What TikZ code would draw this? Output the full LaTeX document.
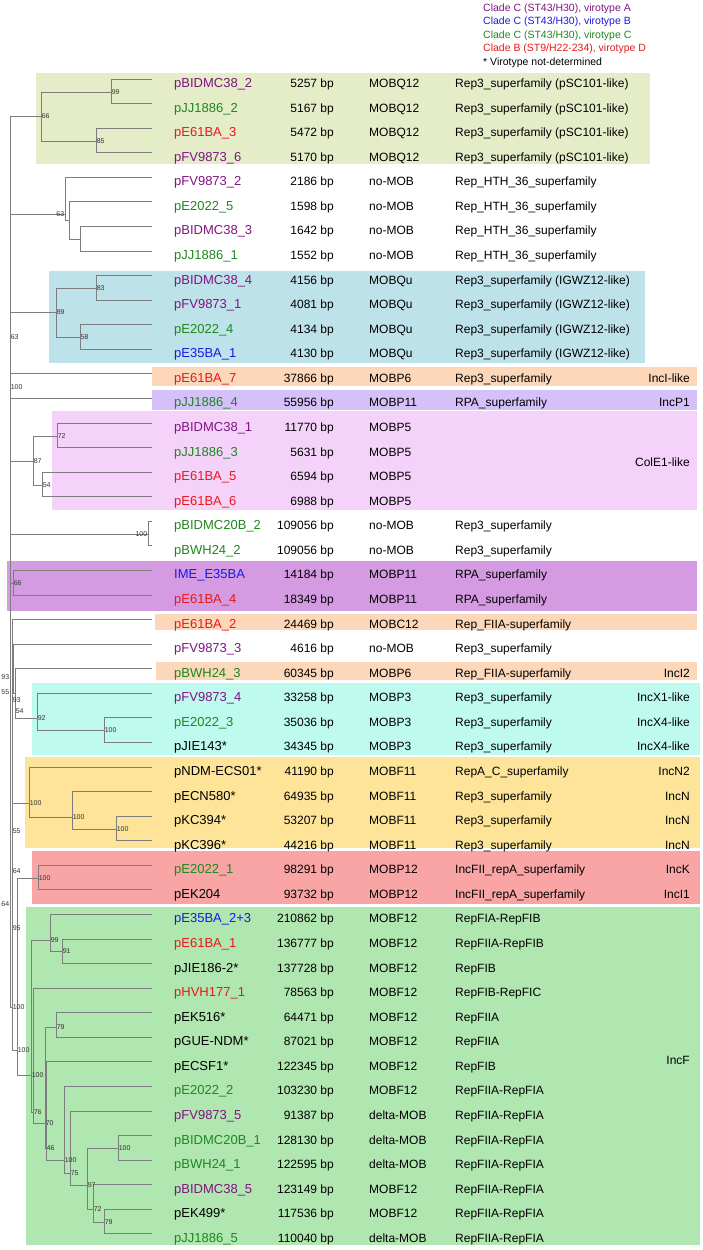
\documentclass[tikz,border=0pt]{standalone}
\usepackage{fontspec}
\setmainfont{Liberation Sans}

\definecolor{vA}{RGB}{128,20,130}
\definecolor{vB}{RGB}{25,25,225}
\definecolor{vC}{RGB}{30,135,30}
\definecolor{vD}{RGB}{232,25,25}
\definecolor{treegray}{RGB}{125,125,125}
\definecolor{boxA}{RGB}{228,237,200}
\definecolor{boxC}{RGB}{190,226,234}
\definecolor{boxPeach}{RGB}{252,215,185}
\definecolor{boxLav}{RGB}{213,192,250}
\definecolor{boxPink}{RGB}{245,210,250}
\definecolor{boxPurp}{RGB}{212,155,226}
\definecolor{boxCyan}{RGB}{190,250,238}
\definecolor{boxYel}{RGB}{253,228,152}
\definecolor{boxRed}{RGB}{250,165,165}
\definecolor{boxGrn}{RGB}{176,230,176}

\begin{document}
\begin{tikzpicture}[
    x=1pt, y=-1pt,
    branch/.style={draw=treegray, line width=0.75pt},
    tipname/.style={anchor=base west, inner sep=0pt, font=\fontsize{13}{13}\selectfont},
    cell/.style={anchor=base west, inner sep=0pt, font=\fontsize{12}{12}\selectfont},
    bplen/.style={anchor=base east, inner sep=0pt, font=\fontsize{12}{12}\selectfont},
    incgroup/.style={anchor=base east, inner sep=0pt, font=\fontsize{12}{12}\selectfont},
    boot/.style={inner sep=0.6pt, font=\fontsize{7}{7}\selectfont, text=black!80},
    legend/.style={anchor=base west, inner sep=0pt, font=\fontsize{10.5}{10.5}\selectfont},
]
\useasboundingbox (0,0) rectangle (702,1250);

% clade backgrounds
\fill[boxA]     (36,73)   rectangle (650,164);
\fill[boxC]     (49,271)  rectangle (645,363);
\fill[boxPeach] (152,367) rectangle (697,386);
\fill[boxLav]   (152,390) rectangle (697,410);
\fill[boxPink]  (52,411)  rectangle (697,510);
\fill[boxPurp]  (7,561)   rectangle (697,611);
\fill[boxPeach] (155,614) rectangle (697,630);
\fill[boxPeach] (156,662) rectangle (697,680);
\fill[boxCyan]  (32,683)  rectangle (700,755);
\fill[boxYel]   (25,757)  rectangle (700,848);
\fill[boxRed]   (32,851)  rectangle (700,904);
\fill[boxGrn]   (26,907)  rectangle (700,1245);

% legend
\node[legend, text=vA] (leg1) at (483,11)   {Clade C (ST43/H30), virotype A};
\node[legend, text=vB] (leg2) at (483,24.6) {Clade C (ST43/H30), virotype B};
\node[legend, text=vC] (leg3) at (483,38.2) {Clade C (ST43/H30), virotype C};
\node[legend, text=vD] (leg4) at (483,51.8) {Clade B (ST9/H22-234), virotype D};
\node[legend]          (leg5) at (483,65.4) {* Virotype not-determined};

% plasmid rows
\foreach \i/\nm/\cl/\bp/\mob/\rep in {
    0/pBIDMC38\_2/vA/5257/MOBQ12/Rep3\_superfamily (pSC101-like),
    1/pJJ1886\_2/vC/5167/MOBQ12/Rep3\_superfamily (pSC101-like),
    2/pE61BA\_3/vD/5472/MOBQ12/Rep3\_superfamily (pSC101-like),
    3/pFV9873\_6/vA/5170/MOBQ12/Rep3\_superfamily (pSC101-like),
    4/pFV9873\_2/vA/2186/no-MOB/Rep\_HTH\_36\_superfamily,
    5/pE2022\_5/vC/1598/no-MOB/Rep\_HTH\_36\_superfamily,
    6/pBIDMC38\_3/vA/1642/no-MOB/Rep\_HTH\_36\_superfamily,
    7/pJJ1886\_1/vC/1552/no-MOB/Rep\_HTH\_36\_superfamily,
    8/pBIDMC38\_4/vA/4156/MOBQu/Rep3\_superfamily (IGWZ12-like),
    9/pFV9873\_1/vA/4081/MOBQu/Rep3\_superfamily (IGWZ12-like),
    10/pE2022\_4/vC/4134/MOBQu/Rep3\_superfamily (IGWZ12-like),
    11/pE35BA\_1/vB/4130/MOBQu/Rep3\_superfamily (IGWZ12-like),
    12/pE61BA\_7/vD/37866/MOBP6/Rep3\_superfamily,
    13/pJJ1886\_4/vC/55956/MOBP11/RPA\_superfamily,
    14/pBIDMC38\_1/vA/11770/MOBP5/{},
    15/pJJ1886\_3/vC/5631/MOBP5/{},
    16/pE61BA\_5/vD/6594/MOBP5/{},
    17/pE61BA\_6/vD/6988/MOBP5/{},
    18/pBIDMC20B\_2/vC/109056/no-MOB/Rep3\_superfamily,
    19/pBWH24\_2/vC/109056/no-MOB/Rep3\_superfamily,
    20/IME\_E35BA/vB/14184/MOBP11/RPA\_superfamily,
    21/pE61BA\_4/vD/18349/MOBP11/RPA\_superfamily,
    22/pE61BA\_2/vD/24469/MOBC12/Rep\_FIIA-superfamily,
    23/pFV9873\_3/vA/4616/no-MOB/Rep3\_superfamily,
    24/pBWH24\_3/vC/60345/MOBP6/Rep\_FIIA-superfamily,
    25/pFV9873\_4/vA/33258/MOBP3/Rep3\_superfamily,
    26/pE2022\_3/vC/35036/MOBP3/Rep3\_superfamily,
    27/pJIE143*/black/34345/MOBP3/Rep3\_superfamily,
    28/pNDM-ECS01*/black/41190/MOBF11/RepA\_C\_superfamily,
    29/pECN580*/black/64935/MOBF11/Rep3\_superfamily,
    30/pKC394*/black/53207/MOBF11/Rep3\_superfamily,
    31/pKC396*/black/44216/MOBF11/Rep3\_superfamily,
    32/pE2022\_1/vC/98291/MOBP12/IncFII\_repA\_superfamily,
    33/pEK204/black/93732/MOBP12/IncFII\_repA\_superfamily,
    34/pE35BA\_2+3/vB/210862/MOBF12/RepFIA-RepFIB,
    35/pE61BA\_1/vD/136777/MOBF12/RepFIIA-RepFIB,
    36/pJIE186-2*/black/137728/MOBF12/RepFIB,
    37/pHVH177\_1/vD/78563/MOBF12/RepFIB-RepFIC,
    38/pEK516*/black/64471/MOBF12/RepFIIA,
    39/pGUE-NDM*/black/87021/MOBF12/RepFIIA,
    40/pECSF1*/black/122345/MOBF12/RepFIB,
    41/pE2022\_2/vC/103230/MOBF12/RepFIIA-RepFIA,
    42/pFV9873\_5/vA/91387/delta-MOB/RepFIIA-RepFIA,
    43/pBIDMC20B\_1/vC/128130/delta-MOB/RepFIIA-RepFIA,
    44/pBWH24\_1/vC/122595/delta-MOB/RepFIIA-RepFIA,
    45/pBIDMC38\_5/vA/123149/MOBF12/RepFIIA-RepFIA,
    46/pEK499*/black/117536/MOBF12/RepFIIA-RepFIA,
    47/pJJ1886\_5/vC/110040/delta-MOB/RepFIIA-RepFIA}{
  \pgfmathsetmacro{\yy}{79+24.57*\i}
  \coordinate (t\i) at (152,\yy);
  \node[tipname, text=\cl] (name\i) at (174,\yy+8.5) {\nm};
  \node[bplen] (len\i) at (334,\yy+8.5) {\bp\ bp};
  \node[cell]  (mob\i) at (369,\yy+8.5) {\mob};
  \node[cell]  (rep\i) at (455,\yy+8.5) {\rep};
}

% incompatibility groups
\foreach \k/\yb/\grp in {i1/382.3/IncI-like, i2/406.9/IncP1, i3/466/ColE1-like,
    i4/677.2/IncI2, i5/701.8/IncX1-like, i6/726.3/IncX4-like, i7/750.9/IncX4-like,
    i8/775.5/IncN2, i9/800/IncN, i10/824.6/IncN, i11/849.2/IncN,
    i12/873.7/IncK, i13/898.3/IncI1, i14/1064/IncF}
  \node[incgroup] (\k) at (690,\yb) {\grp};

% tree nodes
\coordinate (root) at (10,1007);
\coordinate (cA) at (41,116);   \coordinate (cA1) at (111,92);  \coordinate (cA2) at (96,141);
\coordinate (cB) at (65,214);   \coordinate (cB1) at (69,220);  \coordinate (cB2) at (80,239);
\coordinate (cC) at (56,312);   \coordinate (cC1) at (96,288);  \coordinate (cC2) at (80,337);
\coordinate (cD) at (33,461);   \coordinate (cD1) at (57,436);  \coordinate (cD2) at (42,485);
\coordinate (cE) at (148,534);  \coordinate (cF) at (13,583);
\coordinate (cU) at (12,1007);  \coordinate (cS2) at (13,680);  \coordinate (cS3) at (15,693);
\coordinate (cG) at (37,718);   \coordinate (cG1) at (104,730);
\coordinate (cH) at (29,803);   \coordinate (cH1) at (72,817);  \coordinate (cH2) at (116,829);
\coordinate (cV) at (17,1050);  \coordinate (cI) at (38,878);
\coordinate (cJ) at (31,1075);  \coordinate (cJ1) at (50,940);  \coordinate (cJ11) at (62,951);
\coordinate (cJ2) at (33,1112); \coordinate (cJ3) at (45,1123); \coordinate (cJ3b) at (46,1148);
\coordinate (cN) at (56,1027);  \coordinate (cJ4) at (64,1160); \coordinate (cJ5) at (70,1173);
\coordinate (cJ6) at (87,1185); \coordinate (cJ7) at (118,1148); \coordinate (cJ8) at (93,1209);
\coordinate (cJ9) at (104,1222);

% branches
\foreach \p/\c in {root/cA, root/cB, root/cC, root/t12, root/t13, root/cD, root/cE, root/cF, root/cU,
    cA/cA1, cA/cA2, cA1/t0, cA1/t1, cA2/t2, cA2/t3,
    cB/t4, cB/cB1, cB1/t5, cB1/cB2, cB2/t6, cB2/t7,
    cC/cC1, cC/cC2, cC1/t8, cC1/t9, cC2/t10, cC2/t11,
    cD/cD1, cD/cD2, cD1/t14, cD1/t15, cD2/t16, cD2/t17,
    cE/t18, cE/t19, cF/t20, cF/t21,
    cU/t22, cU/cS2, cU/cH, cU/cV, cS2/t23, cS2/cS3, cS3/t24, cS3/cG,
    cG/t25, cG/cG1, cG1/t26, cG1/t27,
    cH/t28, cH/cH1, cH1/t29, cH1/cH2, cH2/t30, cH2/t31,
    cV/cI, cV/cJ, cI/t32, cI/t33,
    cJ/cJ1, cJ/cJ2, cJ1/t34, cJ1/cJ11, cJ11/t35, cJ11/t36,
    cJ2/t37, cJ2/cJ3, cJ3/cN, cJ3/cJ3b, cN/t38, cN/t39,
    cJ3b/t40, cJ3b/cJ4, cJ4/t41, cJ4/cJ5, cJ5/t42, cJ5/cJ6,
    cJ6/cJ7, cJ6/cJ8, cJ7/t43, cJ7/t44, cJ8/t45, cJ8/cJ9, cJ9/t46, cJ9/t47}
  \draw[branch] (\p) |- (\c);

% bootstrap values
\coordinate (k1) at (10,337);  \coordinate (k2) at (10,387);  \coordinate (k3) at (10,677);
\coordinate (k4) at (10,692);  \coordinate (k5) at (12,700);  \coordinate (k6) at (15,711);
\coordinate (k7) at (12,831);  \coordinate (k8) at (12,871);  \coordinate (k9) at (10,904);
\coordinate (k10) at (12,928);
\foreach \c/\v/\s in {cA/66/right, cA1/99/right, cA2/85/right, cB/63/left,
    cC/89/right, cC1/83/right, cC2/58/right, cD/87/right, cD1/72/right, cD2/54/right,
    cE/100/left, cF/66/right, cG/92/right, cG1/100/right,
    cH/100/right, cH1/100/right, cH2/100/right, cI/100/right,
    cU/100/right, cV/100/right, cJ/100/right, cJ1/99/right, cJ11/91/right,
    cJ2/76/right, cJ3/70/right, cJ3b/46/right, cN/79/right, cJ4/100/right,
    cJ5/75/right, cJ6/97/right, cJ7/100/right, cJ8/72/right, cJ9/79/right,
    k1/63/right, k2/100/right, k3/93/left, k4/55/left, k5/93/right, k6/54/right,
    k7/55/right, k8/64/right, k9/64/left, k10/95/right}
  \node[boot, \s] (b\c) at (\c) {\v};

\end{tikzpicture}
\end{document}
